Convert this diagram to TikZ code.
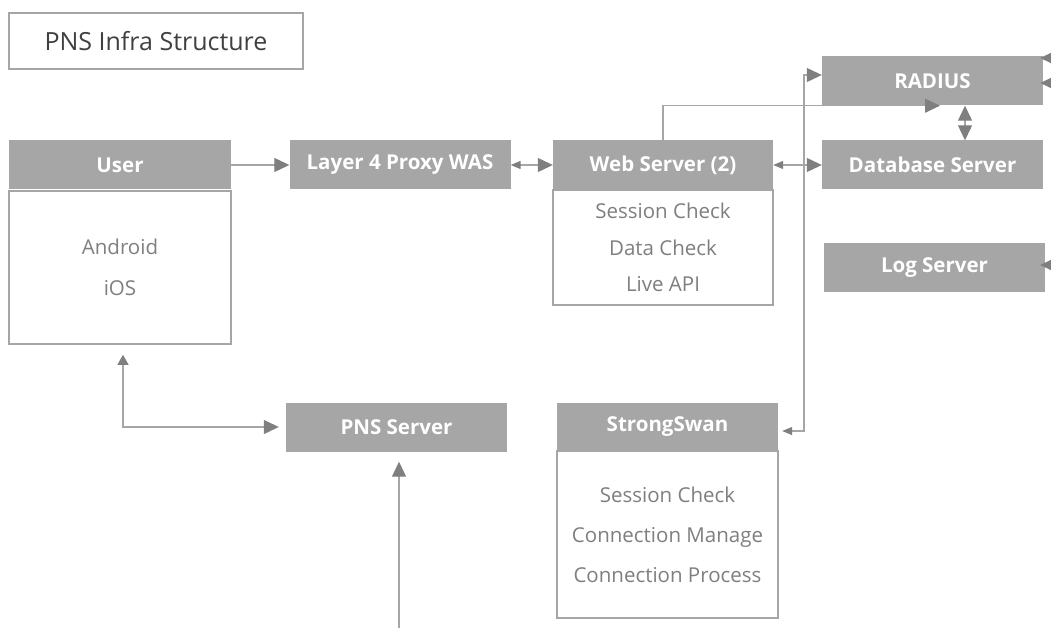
\documentclass[tikz,border=0pt]{standalone}
\usepackage{fontspec}
\setmainfont{Open Sans}
\usetikzlibrary{arrows.meta}
\definecolor{hdr}{HTML}{A6A6A6}
\definecolor{tipc}{HTML}{7F7F7F}
\definecolor{linec}{HTML}{A6A6A6}
\definecolor{bodytxt}{HTML}{7F7F7F}
\definecolor{titletxt}{HTML}{404040}
\tikzset{
  Big/.tip={Triangle[length=15pt,width=14pt,color=tipc]},
  Mid/.tip={Triangle[length=10pt,width=11pt,color=tipc]},
  Small/.tip={Triangle[length=10pt,width=8pt,color=tipc]},
  titlebox/.style={draw=hdr, line width=1.8pt, fill=white, text=titletxt,
    font=\fontsize{25}{30}\selectfont, inner sep=0pt, minimum width=294pt, minimum height=56pt},
  hdrbox/.style={fill=hdr, text=white, font=\bfseries\fontsize{20.5}{24}\selectfont,
    inner sep=0pt, minimum width=221pt, minimum height=49pt},
  bodybox/.style={draw=hdr, line width=1.6pt, fill=white, text=bodytxt,
    align=center, inner sep=0pt},
  conn/.style={draw=linec, line width=1.1pt},
}
\begin{document}
\begin{tikzpicture}[x=1pt,y=-1pt]
\useasboundingbox (0,0) rectangle (1051,628);
\clip (0,0) rectangle (1051,628);

\node[titlebox] (title) at (156,41) {PNS Infra Structure};

\node[bodybox, minimum width=222pt, minimum height=153pt,
      font=\fontsize{20.5}{41}\selectfont] (userB) at (120,267.5) {Android\\iOS};
\node[hdrbox, minimum width=222pt] (userH) at (120,165) {User};

\node[hdrbox] (l4) at (400,165) {Layer 4 Proxy WAS};

\node[bodybox, minimum width=220pt, minimum height=115pt,
      font=\fontsize{20.5}{36.5}\selectfont] (webB) at (663,247.5) {Session Check\\Data Check\\Live API};
\node[hdrbox, minimum width=220pt] (webH) at (663,165) {Web Server (2)};

\node[hdrbox] (radius) at (932.5,81) {RADIUS};
\node[hdrbox] (db) at (932.5,165) {Database Server};
\node[hdrbox] (log) at (934.5,267.5) {Log Server};

\node[hdrbox] (pns) at (396.5,427) {PNS Server};

\node[bodybox, minimum width=221pt, minimum height=167pt,
      font=\fontsize{20.5}{40}\selectfont] (ssB) at (667.5,534.5) {Session Check\\Connection Manage\\Connection Process};
\node[hdrbox] (ssH) at (667.5,427) {StrongSwan};

% connectors
\draw[conn, -{Big}] (userH.east) -- (l4.west);
\draw[conn, {Small}-{Big}] (l4.east) -- (webH.west);
\draw[conn, {Small}-{Big}] (webH.east) -- (db.west);
\draw[conn, -{Big}] (webH.north) |- ([xshift=7.5pt]radius.south);
\draw[conn, {Big}-{Big}] ([xshift=32.5pt]radius.south) -- ([xshift=32.5pt]db.north);
\coordinate (bend) at (804,75);
\draw[conn, {Small}-{Big}] ([xshift=4pt,yshift=-4pt]ssH.east) -| (bend) -- ([yshift=6pt]radius.west);
\draw[conn, {Mid}-{Big}] ([xshift=3pt,yshift=-10pt]userB.south) |- ([xshift=-7pt]pns.west);
\coordinate (pnsin) at (399,640);
\draw[conn, -{Big}] (pnsin) -- ([xshift=2.5pt,yshift=-10pt]pns.south);
\coordinate (rin1) at (1075,58);
\draw[conn, -{Big}] (rin1) -- ([xshift=-3pt,yshift=23pt]radius.east);
\coordinate (rin2) at (1075,83);
\draw[conn, -{Big}] (rin2) -- ([xshift=-3pt,yshift=-2pt]radius.east);
\coordinate (lin) at (1075,265);
\draw[conn, -{Big}] (lin) -- ([xshift=-5pt,yshift=2.5pt]log.east);
\end{tikzpicture}
\end{document}
